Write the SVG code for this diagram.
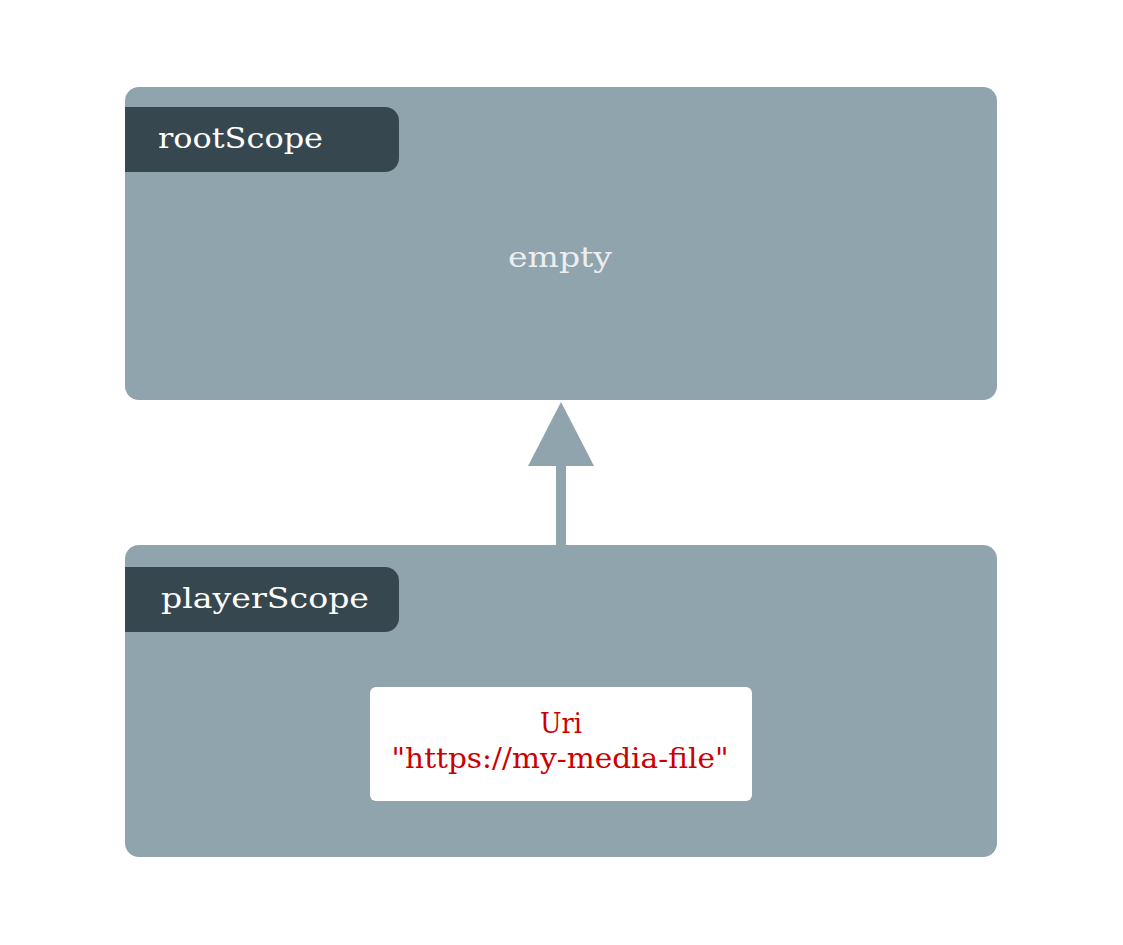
<svg xmlns="http://www.w3.org/2000/svg" width="1123" height="945" viewBox="0 0 1123 945">
<style>
.scope{fill:#90a4ae}
.tab{fill:#37474f}
.t{font-family:"DejaVu Serif","Liberation Serif",serif;font-size:27px}
.tabt{fill:#ffffff}
.empty{fill:#eceff1}
.uri{fill:#cc0000}
</style>
<rect width="1123" height="945" fill="#ffffff"/>
<g id="rootScope">
<rect class="scope" x="125" y="87" width="872" height="313" rx="14"/>
<path class="tab" d="M125 107 H385 A14 14 0 0 1 399 121 V158 A14 14 0 0 1 385 172 H125 Z"/>
<text class="t tabt" x="158" y="148" textLength="165" lengthAdjust="spacingAndGlyphs">rootScope</text>
<text class="t empty" x="560" y="267" text-anchor="middle" textLength="104" lengthAdjust="spacingAndGlyphs">empty</text>
</g>
<g id="connectors">
<rect x="556" y="462" width="10" height="84" fill="#90a4ae"/>
<polygon points="561,402 594,466 528,466" fill="#90a4ae"/>
</g>
<g id="playerScope">
<rect class="scope" x="125" y="545" width="872" height="312" rx="14"/>
<path class="tab" d="M125 567 H385 A14 14 0 0 1 399 581 V618 A14 14 0 0 1 385 632 H125 Z"/>
<text class="t tabt" x="161" y="608" textLength="208" lengthAdjust="spacingAndGlyphs">playerScope</text>
</g>
<g id="uri">
<rect x="370" y="687" width="382" height="114" rx="6" fill="#ffffff"/>
<text class="t uri" x="561" y="733" text-anchor="middle" textLength="42" lengthAdjust="spacingAndGlyphs">Uri</text>
<text class="t uri" x="560" y="768" text-anchor="middle" textLength="337" lengthAdjust="spacingAndGlyphs">"https://my-media-file"</text>
</g>
</svg>
